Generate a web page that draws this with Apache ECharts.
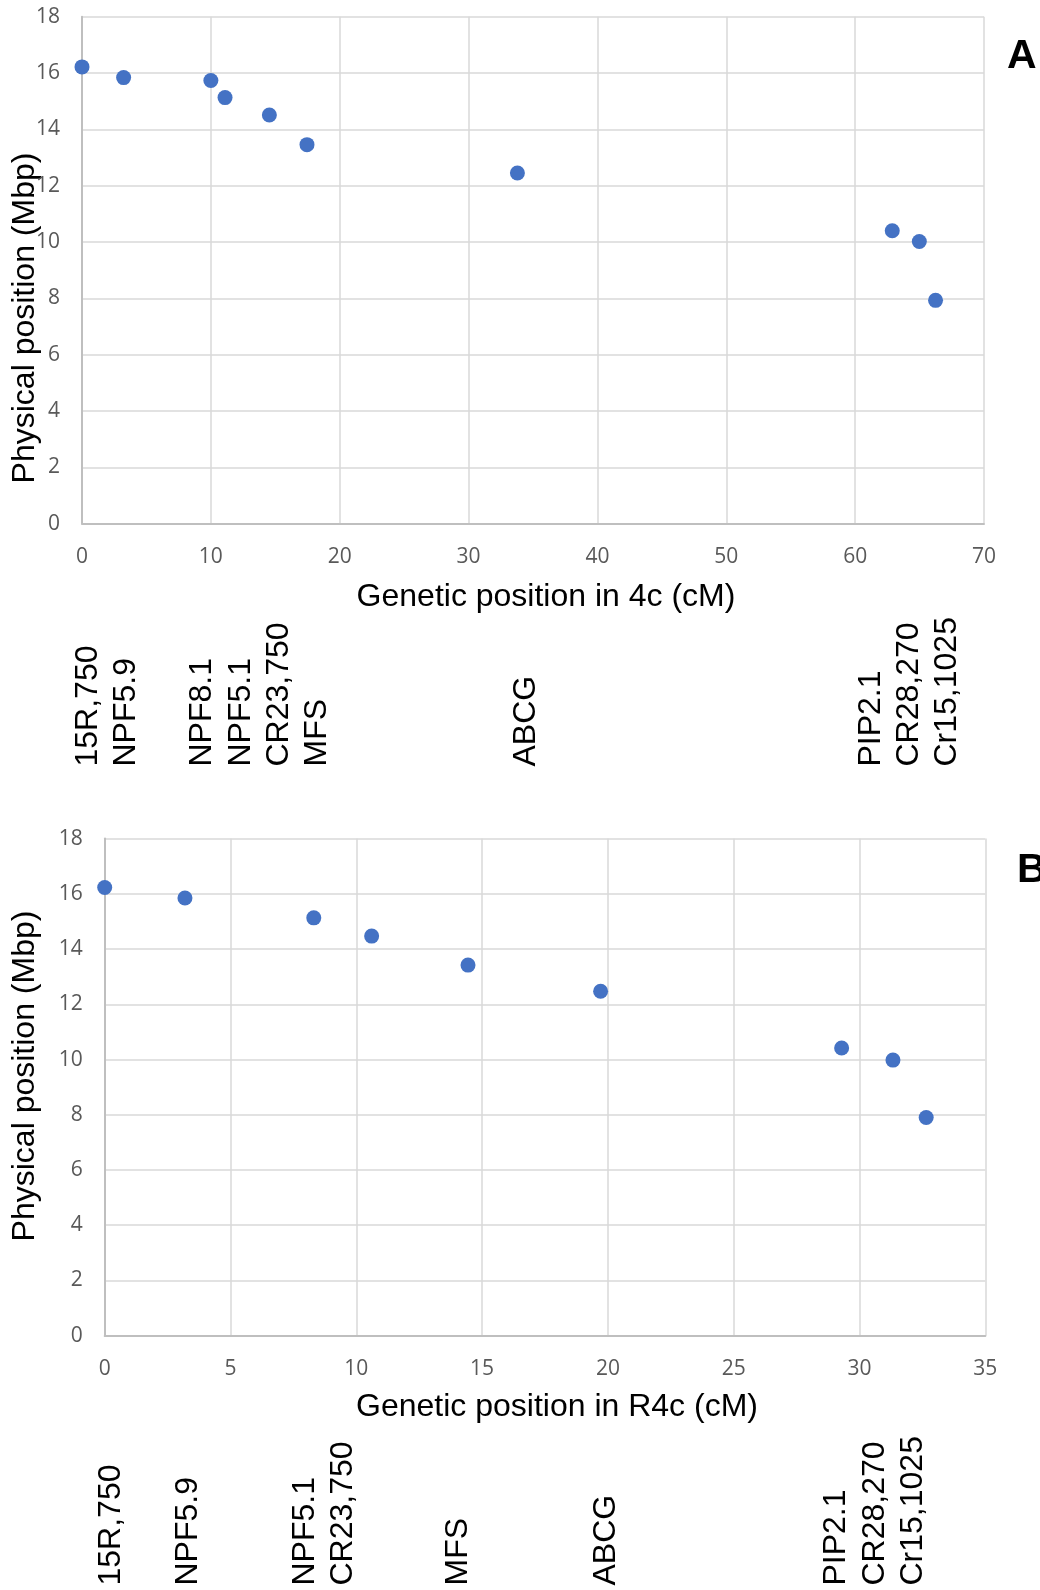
<!DOCTYPE html>
<html>
<head>
<meta charset="utf-8">
<script src="https://cdn.jsdelivr.net/npm/echarts@6/dist/echarts.min.js"></script>
<style>
  html, body { margin: 0; padding: 0; background: #ffffff; }
  #chart { width: 1040px; height: 1590px; }
</style>
</head>
<body>
<div id="chart"></div>
<script>
// Panel A: markers on linkage group 4c (genetic cM vs physical Mbp)
const cmA  = [0, 3.23, 10.0, 11.1, 14.54, 17.46, 33.79, 62.88, 64.98, 66.24];
const mbpA = [16.22, 15.84, 15.74, 15.13, 14.51, 13.46, 12.45, 10.40, 10.02, 7.93];

// Panel B: the same markers on linkage group R4c
const cmB  = [0, 3.19, 8.31, 10.61, 14.44, 19.71, 29.29, 31.33, 32.65];
const mbpB = [16.23, 15.85, 15.13, 14.47, 13.42, 12.47, 10.42, 9.98, 7.90];

// Axis ranges / tick steps
const yMin = 0, yMax = 18, yStep = 2;
const xMinA = 0, xMaxA = 70, xStepA = 10;
const xMinB = 0, xMaxB = 35, xStepB = 5;

// Marker names written under each panel (one text block per group)
const markerGroupsA = [
  ['15R,750', 'NPF5.9'],
  ['NPF8.1', 'NPF5.1', 'CR23,750', 'MFS'],
  ['ABCG'],
  ['PIP2.1', 'CR28,270', 'Cr15,1025']
];
const markerGroupsB = [
  ['15R,750'],
  ['NPF5.9'],
  ['NPF5.1', 'CR23,750'],
  ['MFS'],
  ['ABCG'],
  ['PIP2.1', 'CR28,270', 'Cr15,1025']
];

// Titles
const xTitleA = 'Genetic position in 4c (cM)';
const xTitleB = 'Genetic position in R4c (cM)';
const yTitle = 'Physical position (Mbp)';
const panelLetters = ['A', 'B'];

// ---- layout ----
const gridA = { left: 82, right: 56, top: 16.8, height: 506.8 };
const gridB = { left: 104.7, right: 54.7, top: 838.6, height: 497.1 };
const groupAnchorsA = [[69.2, 766.5], [183.3, 766.5], [507, 766.5], [851.8, 766.5]];
const groupAnchorsB = [[92.5, 1585.5], [169, 1585.5], [285.7, 1585.5], [439, 1585.5], [587.4, 1585.5], [817.4, 1585.5]];

const SANS = '"Liberation Sans", Arial, sans-serif';
const TICK_FONT = '"Open Sans", "Liberation Sans", sans-serif';
const BLUE = '#4472c4';

function xAxisCfg(gridIndex, min, max, step) {
  return {
    type: 'value', gridIndex, min, max, interval: step,
    axisLine: { show: true, lineStyle: { color: '#bfbfbf', width: 2 } },
    axisTick: { show: false },
    axisLabel: { color: '#595959', fontSize: 21, fontFamily: TICK_FONT, margin: 23 },
    splitLine: { show: true, lineStyle: { color: '#d9d9d9', width: 1.5 } }
  };
}
function yAxisCfg(gridIndex) {
  return {
    type: 'value', gridIndex, min: yMin, max: yMax, interval: yStep,
    axisLine: { show: true, lineStyle: { color: '#bfbfbf', width: 2 } },
    axisTick: { show: false },
    axisLabel: { color: '#595959', fontSize: 21, fontFamily: TICK_FONT, margin: 22 },
    splitLine: { show: true, lineStyle: { color: '#d9d9d9', width: 1.5 } }
  };
}

function textEl(text, x, y, opts) {
  const o = opts || {};
  return {
    type: 'text', x, y,
    rotation: o.rotation || 0,
    silent: true,
    style: {
      text,
      font: o.font || ('32px ' + SANS),
      fill: o.fill || '#000000',
      align: o.align || 'left', textAlign: o.align || 'left',
      verticalAlign: o.vAlign || 'top', textVerticalAlign: o.vAlign || 'top',
      lineHeight: o.lineHeight || 38.3
    }
  };
}

const graphics = [];
// axis titles
graphics.push(textEl(xTitleA, 546, 597, { font: '32px ' + SANS, align: 'center', vAlign: 'middle', lineHeight: 32 }));
graphics.push(textEl(xTitleB, 557, 1407, { font: '32px ' + SANS, align: 'center', vAlign: 'middle', lineHeight: 32 }));
graphics.push(textEl(yTitle, 25, 318, { font: '32px ' + SANS, align: 'center', vAlign: 'middle', rotation: Math.PI / 2, lineHeight: 32 }));
graphics.push(textEl(yTitle, 25, 1076, { font: '32px ' + SANS, align: 'center', vAlign: 'middle', rotation: Math.PI / 2, lineHeight: 32 }));
// panel letters
graphics.push(textEl(panelLetters[0], 1007, 57, { font: 'bold 41px ' + SANS, vAlign: 'middle', lineHeight: 41 }));
graphics.push(textEl(panelLetters[1], 1017, 871, { font: 'bold 41px ' + SANS, vAlign: 'middle', lineHeight: 41 }));
// vertical marker names
markerGroupsA.forEach((g, i) => {
  const [x, y] = groupAnchorsA[i];
  graphics.push(textEl(g.join('\n'), x, y, { rotation: Math.PI / 2 }));
});
markerGroupsB.forEach((g, i) => {
  const [x, y] = groupAnchorsB[i];
  graphics.push(textEl(g.join('\n'), x, y, { rotation: Math.PI / 2 }));
});

const chart = echarts.init(document.getElementById('chart'), null, { renderer: 'canvas' });
chart.setOption({
  backgroundColor: '#ffffff',
  animation: false,
  grid: [
    Object.assign({ containLabel: false, outerBoundsMode: 'none' }, gridA),
    Object.assign({ containLabel: false, outerBoundsMode: 'none' }, gridB)
  ],
  xAxis: [xAxisCfg(0, xMinA, xMaxA, xStepA), xAxisCfg(1, xMinB, xMaxB, xStepB)],
  yAxis: [yAxisCfg(0), yAxisCfg(1)],
  series: [
    {
      type: 'scatter', xAxisIndex: 0, yAxisIndex: 0, clip: false,
      symbol: 'circle', symbolSize: 15,
      itemStyle: { color: BLUE, opacity: 1 },
      data: cmA.map((x, i) => [x, mbpA[i]])
    },
    {
      type: 'scatter', xAxisIndex: 1, yAxisIndex: 1, clip: false,
      symbol: 'circle', symbolSize: 15,
      itemStyle: { color: BLUE, opacity: 1 },
      data: cmB.map((x, i) => [x, mbpB[i]])
    }
  ],
  graphic: graphics
});
</script>
</body>
</html>
